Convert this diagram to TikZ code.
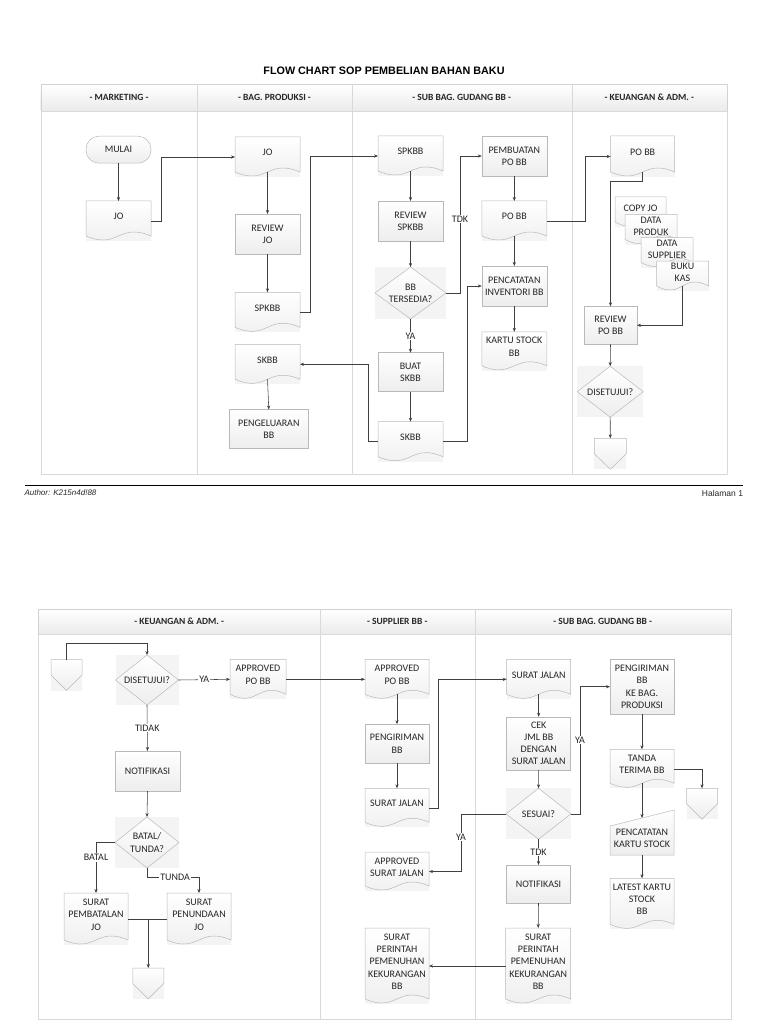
\documentclass[tikz,border=0pt]{standalone}
\usepackage{fontspec}
\setmainfont{Carlito}
\newfontfamily\arialfont{Liberation Sans}
\usetikzlibrary{arrows.meta,calc}

\pgfdeclarelayer{background}
\pgfsetlayers{background,main}

\newcommand{\shapefont}{\fontsize{10}{12.3}\selectfont}
\newcommand{\headfont}{\bfseries\fontsize{9.5}{11}\selectfont}

\begin{document}
\begin{tikzpicture}[
  x=1pt, y=-1pt,
  % Gaya umum simpul (garis bentuk digambar di lapisan belakang)
  every node/.style={inner sep=0pt, outer sep=0pt, align=center, font=\shapefont, text=black!85},
  lanehead/.style={font=\headfont},
  proc/.style={minimum width=65pt, minimum height=40pt},
  doc/.style={minimum width=65pt, minimum height=40pt, text depth=9pt},
  stackdoc/.style={minimum width=52pt, minimum height=30pt, text depth=7pt},
  term/.style={minimum width=65pt, minimum height=27pt},
  dec/.style={minimum width=65pt, minimum height=51pt},
  offpage/.style={minimum width=31pt, minimum height=31pt},
  manin/.style={minimum width=64pt, minimum height=45pt, text height=31pt},
  lbl/.style={fill=white, inner sep=1pt},
  % Garis bentuk dan panah
  shapeline/.style={draw=gray!55, line width=0.5pt, top color=white, bottom color=gray!14},
  shadowbox/.style={fill=gray!9},
  conn/.style={draw=black!75, line width=0.55pt, -{Stealth[length=4pt, width=3.2pt]}},
  joinline/.style={draw=black!75, line width=0.55pt}
]
\useasboundingbox (0,0) rectangle (768,1024);

% Jalur halaman 1 dan halaman 2
\begin{pgfonlayer}{background}
  \draw[draw=gray!35, top color=white, bottom color=gray!16] (40.7,84.3) rectangle (727,111);
  \draw[gray!30] (40.7,111) rectangle (727,474);
  \foreach \xx in {197.3,351.7,571.7} \draw[gray!30] (\xx,84.3) -- (\xx,474);
  \draw[draw=gray!35, top color=white, bottom color=gray!16] (38.3,609) rectangle (730.7,634.3);
  \draw[gray!30] (38.3,634.3) rectangle (730.7,1019);
  \foreach \xx in {320,474.7} \draw[gray!30] (\xx,609) -- (\xx,1019);
\end{pgfonlayer}

% Judul dan kaki halaman
\node[font=\arialfont\bfseries\fontsize{10.8}{13}\selectfont, text=black] (judul) at (384,70.7) {FLOW CHART SOP PEMBELIAN BAHAN BAKU};
\draw[line width=1.5pt] (25,485.7) -- (743,485.7);
\node[anchor=west, font=\arialfont\itshape\fontsize{8}{10}\selectfont] (author) at (24.5,493) {Author: K215n4d!88};
\node[anchor=east, font=\arialfont\fontsize{8.5}{10}\selectfont] (halaman) at (743,493) {Halaman 1};

% Kepala jalur
\node[lanehead] (hmkt) at (119,97.7) {- MARKETING -};
\node[lanehead] (hprod) at (274.5,97.7) {- BAG. PRODUKSI -};
\node[lanehead] (hgud) at (461.7,97.7) {- SUB BAG. GUDANG BB -};
\node[lanehead] (hkeu) at (649.3,97.7) {- KEUANGAN \& ADM. -};
\node[lanehead] (hkeu2) at (179.2,621.7) {- KEUANGAN \& ADM. -};
\node[lanehead] (hsup) at (397.3,621.7) {- SUPPLIER BB -};
\node[lanehead] (hgud2) at (602.7,621.7) {- SUB BAG. GUDANG BB -};

% Halaman 1
\node[term] (mulai) at (118.5,149.7) {MULAI};
\node[doc] (jo1) at (118.5,221) {JO};
\node[doc] (jo2) at (267.5,157) {JO};
\node[proc] (review1) at (267.5,234) {REVIEW\\JO};
\node[doc] (spk1) at (267.5,312.3) {SPKBB};
\node[doc] (skbb1) at (267.5,364.3) {SKBB};
\node[proc, minimum width=79pt, minimum height=39pt] (pengeluaran) at (268.8,429) {PENGELUARAN\\BB};
\node[doc] (spk2) at (410.5,156) {SPKBB};
\node[proc] (review2) at (410.5,221) {REVIEW\\SPKBB};
\node[dec, minimum width=71pt, minimum height=52pt] (tersedia) at (410.5,293) {BB\\TERSEDIA?};
\node[proc, minimum height=39pt] (buat) at (410.5,372.2) {BUAT\\SKBB};
\node[doc] (skbb2) at (410.5,441.7) {SKBB};
\node[proc] (pembuatan) at (514.3,156) {PEMBUATAN\\PO BB};
\node[doc] (pobb1) at (514.3,221) {PO BB};
\node[proc] (pencatatan) at (514.3,286) {PENCATATAN\\INVENTORI BB};
\node[doc, minimum height=39pt] (kartu) at (514.3,351.3) {KARTU STOCK\\BB};
\node[doc, minimum width=64pt, minimum height=41pt] (pobbk) at (642.7,156.5) {PO BB};
\node[stackdoc, minimum width=51pt] (copyjo) at (640.5,212) {COPY JO};
\node[stackdoc] (dataproduk) at (651,229.5) {DATA\\PRODUK};
\node[stackdoc] (datasupplier) at (667,252.5) {DATA\\SUPPLIER};
\node[stackdoc] (bukukas) at (682.5,276) {BUKU\\KAS};
\node[proc, minimum width=53pt, minimum height=38pt] (reviewpo) at (610.5,325.3) {REVIEW\\PO BB};
\node[dec, minimum width=66pt] (setuju1) at (610.2,391.7) {DISETUJUI?};
\node[offpage, minimum width=32pt] (conn0) at (610.3,453.8) {};

% Halaman 2
\node[offpage] (conn1) at (66.5,675) {};
\node[dec, minimum width=63pt, minimum height=50pt] (setuju2) at (147,680) {DISETUJUI?};
\node[doc, minimum width=56pt] (appo1) at (258,679.3) {APPROVED\\PO BB};
\node[proc] (notif1) at (147.5,771) {NOTIFIKASI};
\node[dec, minimum width=64pt] (batal) at (147,842.5) {BATAL/\\TUNDA?};
\node[doc, minimum width=64pt, minimum height=52pt] (spem) at (96,919) {SURAT\\PEMBATALAN\\JO};
\node[doc, minimum width=64pt, minimum height=52pt] (spen) at (199,919) {SURAT\\PENUNDAAN\\JO};
\node[offpage] (conn2) at (148.3,983.5) {};
\node[doc, minimum width=64pt] (appo2) at (397,679.3) {APPROVED\\PO BB};
\node[proc, minimum width=64pt, minimum height=39pt] (kirim1) at (397,743.7) {PENGIRIMAN\\BB};
\node[doc, minimum width=64pt, minimum height=39pt] (sj1) at (397,807.8) {SURAT JALAN};
\node[doc, minimum width=64pt, minimum height=39pt] (apsj) at (397,871.5) {APPROVED\\SURAT JALAN};
\node[doc, minimum width=64pt, minimum height=76pt] (sp1) at (397,966) {SURAT\\PERINTAH\\PEMENUHAN\\KEKURANGAN\\BB};
\node[doc, minimum width=64pt] (sj2) at (538.7,679.3) {SURAT JALAN};
\node[proc, minimum width=64pt, minimum height=53pt] (cek) at (538.7,743.3) {CEK\\JML BB\\DENGAN\\SURAT JALAN};
\node[dec] (sesuai) at (538.5,813.8) {SESUAI?};
\node[proc, minimum width=64pt, minimum height=38pt] (notif2) at (538.5,884) {NOTIFIKASI};
\node[doc, minimum height=76pt] (sp2) at (538.2,966) {SURAT\\PERINTAH\\PEMENUHAN\\KEKURANGAN\\BB};
\node[proc, minimum width=64pt, minimum height=55pt] (kirim2) at (642,686.7) {PENGIRIMAN\\BB\\KE BAG.\\PRODUKSI};
\node[doc, minimum width=64pt, minimum height=39pt] (tanda) at (642,768.8) {TANDA\\TERIMA BB};
\node[offpage] (conn3) at (702,803.8) {};
\node[manin] (catat2) at (642,832.5) {PENCATATAN\\KARTU STOCK};
\node[doc, minimum width=64pt, minimum height=51pt] (latest) at (642,903.8) {LATEST KARTU\\STOCK\\BB};

% Bentuk-bentuk di lapisan belakang
\begin{pgfonlayer}{background}
  \draw[shapeline, rounded corners=13pt] (mulai.north west) rectangle (mulai.south east);
  \foreach \n in {review1,pengeluaran,review2,buat,pembuatan,pencatatan,reviewpo,notif1,kirim1,cek,notif2,kirim2}
    \draw[shapeline] (\n.north west) rectangle (\n.south east);
  \foreach \n in {jo1,jo2,spk1,skbb1,spk2,skbb2,pobb1,kartu,pobbk,copyjo,dataproduk,datasupplier,bukukas,appo1,spem,spen,appo2,sj1,apsj,sp1,sj2,sp2,tanda,latest}{
    \fill[shadowbox] (\n.north west) rectangle (\n.south east);
    \draw[shapeline] (\n.north west) -- (\n.north east) -- ($(\n.south east)+(0,-5)$)
      .. controls ($(\n.south)+(0,-19)$) and ($(\n.south)+(0,9)$) .. ($(\n.south west)+(0,-5)$) -- cycle;
  }
  \foreach \n in {tersedia,setuju1,setuju2,batal,sesuai}{
    \fill[shadowbox] (\n.north west) rectangle (\n.south east);
    \draw[shapeline] (\n.north) -- (\n.east) -- (\n.south) -- (\n.west) -- cycle;
  }
  \foreach \n in {conn0,conn1,conn2,conn3}{
    \fill[shadowbox] (\n.north west) rectangle (\n.south east);
    \draw[shapeline] (\n.north west) -- (\n.north east) -- (\n.east) -- (\n.south) -- (\n.west) -- cycle;
  }
  \draw[shapeline] (catat2.south west) -- ($(catat2.north west)+(0,16)$) -- (catat2.north east) -- (catat2.south east) -- cycle;
\end{pgfonlayer}

% Penghubung halaman 1
\draw[conn] (mulai.south) -- (jo1.north);
\draw[conn] (jo1.east) -- ++(10,0) |- (jo2.west);
\draw[conn] ([yshift=5pt]jo2.south) -- (review1.north);
\draw[conn] (review1.south) -- (spk1.north);
\draw[conn] (spk1.east) -- ++(10,0) |- (spk2.west);
\draw[conn] ([yshift=5pt]spk2.south) -- (review2.north);
\draw[conn] (review2.south) -- (tersedia.north);
\draw[conn] (tersedia.east) -- ++(14,0) |- node[lbl, pos=0.27] (tdk1) {TDK} (pembuatan.west);
\draw[conn] (tersedia.south) -- node[lbl] (ya1) {YA} (buat.north);
\draw[conn] (buat.south) -- (skbb2.north);
\draw[conn] (skbb2.east) -- ++(24,0) |- (pencatatan.west);
\draw[conn] (skbb2.west) -- ++(-10,0) |- (skbb1.east);
\draw[conn] ([yshift=5pt]skbb1.south) -- (pengeluaran.north);
\draw[conn] (pembuatan.south) -- (pobb1.north);
\draw[conn] ([yshift=5pt]pobb1.south) -- (pencatatan.north);
\draw[conn] (pencatatan.south) -- (kartu.north);
\draw[conn] (pobb1.east) -- ++(38,0) |- (pobbk.west);
\draw[conn] ([yshift=5pt]pobbk.south) -- ++(0,9) -| (reviewpo.north);
\draw[conn] ([yshift=5pt]bukukas.south) |- (reviewpo.east);
\draw[conn] (reviewpo.south) -- (setuju1.north);
\draw[conn] (setuju1.south) -- (conn0.north);

% Penghubung halaman 2
\draw[conn] (conn1.north) -- ++(0,-16) -| (setuju2.north);
\draw[conn] (setuju2.east) -- node[lbl] (ya2) {YA} (appo1.west);
\draw[conn] (appo1.east) -- (appo2.west);
\draw[conn] (setuju2.south) -- node[lbl] (tidak) {TIDAK} (notif1.north);
\draw[conn] (notif1.south) -- (batal.north);
\draw[conn] (batal.west) -| node[lbl, pos=0.65] (lblbatal) {BATAL} (spem.north);
\draw[conn] (batal.south) -- ++(0,9) -| node[lbl, pos=0.27] (lbltunda) {TUNDA} (spen.north);
\coordinate (gabung) at (conn2.north |- spem.east);
\draw[joinline] (spem.east) -- (spen.west);
\draw[conn] (gabung) -- (conn2.north);
\draw[conn] ([yshift=5pt]appo2.south) -- (kirim1.north);
\draw[conn] (kirim1.south) -- (sj1.north);
\draw[conn] (sj1.east) -- ++(9,0) |- (sj2.west);
\draw[conn] ([yshift=5pt]sj2.south) -- (cek.north);
\draw[conn] (cek.south) -- (sesuai.north);
\draw[conn] (sesuai.west) -- ++(-45,0) |- node[lbl, pos=0.2] (ya3) {YA} (apsj.east);
\draw[conn] (sesuai.south) -- node[lbl] (tdk2) {TDK} (notif2.north);
\draw[conn] (notif2.south) -- (sp2.north);
\draw[conn] (sp2.west) -- (sp1.east);
\draw[conn] (sesuai.east) -- ++(9,0) |- node[lbl, pos=0.29] (ya4) {YA} (kirim2.west);
\draw[conn] (kirim2.south) -- (tanda.north);
\draw[conn] (tanda.east) -| (conn3.north);
\draw[conn] ([yshift=5pt]tanda.south) -- ([yshift=-8pt]catat2.north);
\draw[conn] (catat2.south) -- (latest.north);
\end{tikzpicture}
\end{document}
